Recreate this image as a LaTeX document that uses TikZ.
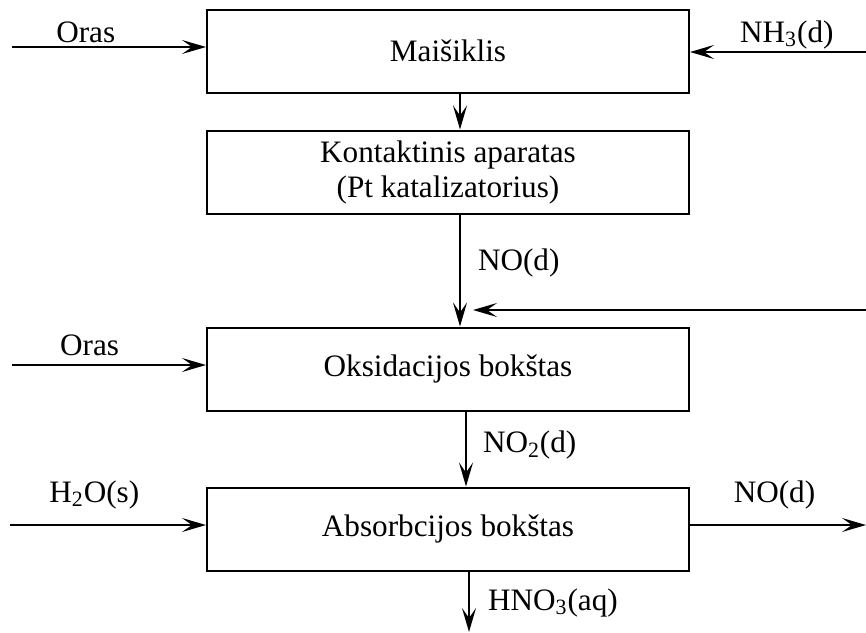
\documentclass[tikz,border=0pt]{standalone}
\usepackage{fontspec}
\setmainfont{Liberation Serif}
\usetikzlibrary{positioning,arrows.meta}

\begin{document}
\begin{tikzpicture}[x=0.5pt, y=-0.5pt, line width=1pt,
    >={Stealth[length=12pt,width=7pt,inset=5pt]},
    font=\fontsize{15.6}{17.5}\selectfont,
    box/.style={draw, minimum width=241pt, minimum height=41.5pt, inner sep=0pt, align=center},
    lbl/.style={inner sep=0pt, anchor=base}]%
    \useasboundingbox (0,0) rectangle (866,632);
    \node[box] (1) at (448,51) {Maišiklis};
    \node[box] (2) [below=18pt of 1] {Kontaktinis aparatas\\(Pt katalizatorius)};
    \node[box] (3) [below=56pt of 2] {Oksidacijos bokštas};
    \node[box] (4) [below=37.5pt of 3] {Absorbcijos bokštas};
    \coordinate (oras1) at (12,47);
    \coordinate (nh3) at (866,52);
    \coordinate (ret) at (866,310);
    \coordinate (join) at (473,310);
    \coordinate (oras2) at (12,365);
    \coordinate (h2o) at (10,525);
    \coordinate (no) at (866,525);
    \coordinate (prod) at (469,632);
    \draw[->] (oras1) -- node [lbl, pos=0.38, yshift=2.5pt] (t1) {Oras} (oras1 -| 1.west);
    \draw[->] (nh3) -- node [lbl, pos=0.45, yshift=5pt] (t2) {NH\textsubscript{3}(d)} (nh3 -| 1.east);
    \draw[->] ([xshift=6pt]1.south) -- ([xshift=6pt]2.south |- 2.north);
    \draw[->] ([xshift=6pt]2.south) -- node [lbl, anchor=base west, xshift=8.5pt] (t3) {NO(d)} ([xshift=6pt]2.south |- 3.north);
    \draw[->] (ret) -- (join);
    \draw[->] (oras2) -- node [lbl, pos=0.40, yshift=5pt] (t4) {Oras} (oras2 -| 3.west);
    \draw[->] ([xshift=9pt]3.south) -- node [lbl, anchor=base west, xshift=8pt, yshift=-1.75pt] (t5) {NO\textsubscript{2}(d)} ([xshift=9pt]3.south |- 4.north);
    \draw[->] (h2o) -- node [lbl, pos=0.43, yshift=11.5pt] (t6) {H\textsubscript{2}O(s)} (h2o -| 4.west);
    \draw[->] (no -| 4.east) -- node [lbl, pos=0.48, yshift=11.5pt] (t7) {NO(d)} (no);
    \draw[->] (prod |- 4.south) -- node [lbl, anchor=base west, xshift=9pt, yshift=-4.25pt] (t8) {HNO\textsubscript{3}(aq)} (prod);
\end{tikzpicture}
\end{document}
